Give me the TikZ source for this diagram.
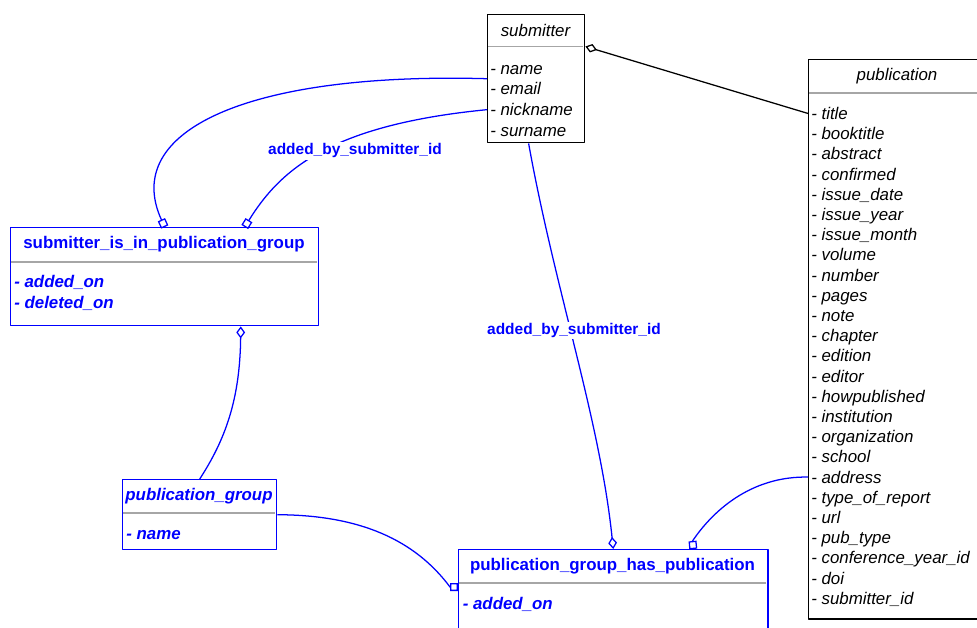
\documentclass[tikz,border=0pt]{standalone}
\usepackage{fontspec}
\setmainfont{Liberation Sans}
\usetikzlibrary{arrows.meta}
\newcommand\efont{\fontsize{12}{14.4}\selectfont}
\begin{document}
\begin{tikzpicture}[x=0.025cm,y=-0.025cm,line join=round,
	ent/.style={draw,line width=1pt,anchor=north west,inner sep=0pt},
	sep/.style={gray!70,line width=1.3pt},
	ttl/.style={anchor=base,inner sep=0pt},
	att/.style={anchor=base west,inner sep=0pt},
	lnk/.style={blue,line width=0.9pt},
	lbl/.style={anchor=base,fill=white,inner sep=1pt,text=blue,font=\fontsize{11}{13}\selectfont\bfseries},
	sq/.style={-{Square[open,length=0.2cm,width=0.2cm]}},
	dm/.style={-{Diamond[open,length=0.3cm,width=0.22cm]}}]
	\useasboundingbox (0,0) rectangle (977,628);
	\clip (0,0) rectangle (977,628);
	% submitter
	\node[ent,minimum width=2.425cm,minimum height=3.2cm] (sub) at (487,14) {};
	\draw[sep] (488,46.5) coordinate (subS) -- (583,46.5);
	\node[ttl,font=\efont\itshape] (subT) at (535.5,36.7) {submitter};
	\foreach \a [count=\i] in {name,email,nickname,surname}
		\node[att,font=\efont\itshape] (sub\i) at (490,{74.3+20.7*(\i-1)}) {- \a};
	% publication
	\node[ent,minimum width=4.45cm,minimum height=13.975cm] (pub) at (808,59) {};
	\draw[sep] (809,93) -- (977,93);
	\node[ttl,font=\efont\itshape] (pubT) at (897,80.3) {publication};
	\foreach \a [count=\i] in {title,booktitle,abstract,confirmed,issue\_date,issue\_year,issue\_month,volume,number,pages,note,chapter,edition,editor,howpublished,institution,organization,school,address,type\_of\_report,url,pub\_type,conference\_year\_id,doi,submitter\_id}
		\node[att,font=\efont\itshape] (pub\i) at (811,{119.5+20.2*(\i-1)}) {- \a};
	% submitter_is_in_publication_group
	\node[ent,draw=blue,minimum width=7.7cm,minimum height=2.45cm] (sipg) at (10,227) {};
	\draw[sep] (11,262) -- (317,262);
	\node[ttl,text=blue,font=\efont\bfseries] (sipgT) at (164,248.3) {submitter\_is\_in\_publication\_group};
	\node[att,text=blue,font=\efont\bfseries\itshape] (sipg1) at (14,287.7) {- added\_on};
	\node[att,text=blue,font=\efont\bfseries\itshape] (sipg2) at (14,308.3) {- deleted\_on};
	% publication_group
	\node[ent,draw=blue,minimum width=3.85cm,minimum height=1.75cm] (pg) at (122,479) {};
	\draw[sep] (123,513) -- (275,513);
	\node[ttl,text=blue,font=\efont\bfseries\itshape] (pgT) at (199,500.7) {publication\_group};
	\node[att,text=blue,font=\efont\bfseries\itshape] (pg1) at (126,539.3) {- name};
	% publication_group_has_publication
	\node[ent,draw=blue,minimum width=7.725cm,minimum height=3cm] (pghp) at (458,549) {};
	\draw[sep] (459,583) -- (766,583);
	\node[ttl,text=blue,font=\efont\bfseries] (pghpT) at (612.5,570) {publication\_group\_has\_publication};
	\node[att,text=blue,font=\efont\bfseries\itshape] (pghp1) at (462.5,609.3) {- added\_on};
	% links
	\draw[line width=0.9pt,dm] (pub.west |- pub1) -- (sub.east |- subS);
	\draw[lnk,sq] (sub.west) .. controls (250,72) and (120,130) .. (sipg.north);
	\draw[lnk,sq] (sub.west |- sub3) .. controls (330,125) and (280,170) .. ([xshift=2cm]sipg.north);
	\node[lbl] (lblA) at (355,155) {added\_by\_submitter\_id};
	\draw[lnk,dm] ([xshift=-0.19cm]sub.south) .. controls (555,290) and (600,420) .. (pghp.north);
	\node[lbl] (lblB) at (574,334.5) {added\_by\_submitter\_id};
	\draw[lnk,dm] (pg.north) .. controls (225,440) and (240,400) .. ([xshift=1.9cm]sipg.south);
	\draw[lnk,sq] (pg.east) .. controls (360,515) and (415,540) .. (450,587) -- ([yshift=-0.95cm]pghp.north west);
	\draw[lnk,sq] (pub.west |- pub19) .. controls (750,476) and (712,512) .. (692.5,541) -- ([xshift=2cm]pghp.north);
\end{tikzpicture}
\end{document}
